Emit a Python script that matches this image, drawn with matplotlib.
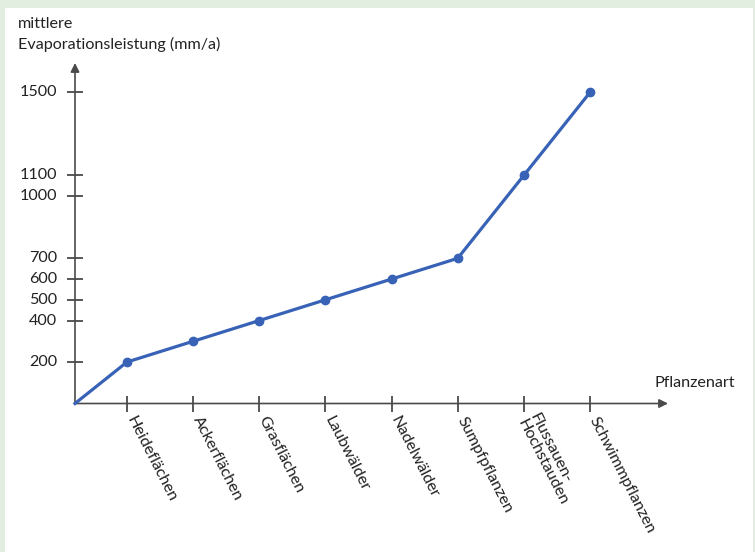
import matplotlib
matplotlib.use("Agg")
import matplotlib.pyplot as plt
from matplotlib.patches import Rectangle

plt.rcParams['font.family'] = ['Lato', 'DejaVu Sans']

categories = ["Heideflächen", "Ackerflächen", "Grasflächen", "Laubwälder",
              "Nadelwälder", "Sumpfpflanzen", "Flussauen-\nHochstauden", "Schwimmpflanzen"]
values = [200, 300, 400, 500, 600, 700, 1100, 1500]
y_ticks = [200, 400, 500, 600, 700, 1000, 1100, 1500]
y_label = "mittlere\nEvaporationsleistung (mm/a)"
x_label = "Pflanzenart"

W, H = 755, 552
DPI = 100
fig = plt.figure(figsize=(W / DPI, H / DPI), dpi=DPI)
fig.patch.set_facecolor('#e2efe0')
fig.patches.append(Rectangle((5 / W, 0), (753 - 5) / W, (H - 8) / H,
                             transform=fig.transFigure, facecolor='white',
                             edgecolor='none', zorder=-5))

ax = fig.add_axes([0, 0, 1, 1])
ax.set_zorder(2)
ax.axis('off')
ax.patch.set_alpha(0)

# pixel layout of the scales
px_first, px_step = 127, 66.14      # x pixel of first category, spacing
py_zero, py_per_unit = 403.5, 0.2074  # y pixel of value 0, pixels per unit
ax.set_xlim(1 - px_first / px_step, 1 + (W - px_first) / px_step)
ax.set_ylim(-(H - py_zero) / py_per_unit, py_zero / py_per_unit)

x_origin = 1 - (px_first - 75) / px_step
x_arrow_end = 1 + (668 - px_first) / px_step
y_arrow_end = (py_zero - 63) / py_per_unit
positions = list(range(1, len(categories) + 1))

axis_color = '#4a4a4a'
text_color = '#222222'
fs = 11.6

# axes with arrows
ax.annotate('', xy=(x_arrow_end, 0), xytext=(x_origin, 0),
            arrowprops=dict(arrowstyle='-|>', color=axis_color, lw=1.2,
                            mutation_scale=13, shrinkA=0, shrinkB=0))
ax.annotate('', xy=(x_origin, y_arrow_end), xytext=(x_origin, 0),
            arrowprops=dict(arrowstyle='-|>', color=axis_color, lw=1.2,
                            mutation_scale=13, shrinkA=0, shrinkB=0))

# ticks
ax.plot(positions, [0] * len(positions), linestyle='none', marker='|',
        markersize=12, markeredgewidth=1.3, color=axis_color)
ax.plot([x_origin] * len(y_ticks), y_ticks, linestyle='none', marker='_',
        markersize=11, markeredgewidth=1.3, color=axis_color)

# data line
ax.plot([x_origin] + positions, [0] + values, color='#3862b6', lw=2.3,
        marker='o', markersize=6, markevery=list(range(1, len(values) + 1)),
        solid_joinstyle='round', zorder=5)

# tick labels
for v in y_ticks:
    ax.text(x_origin - 18 / px_step, v, str(v), ha='right', va='center',
            fontsize=fs, color=text_color)
for p, c in zip(positions, categories):
    ax.text(p + 3 / px_step, -14 / py_per_unit, c, rotation=-63,
            rotation_mode='anchor', ha='left', va='center',
            fontsize=fs, color=text_color, linespacing=1.0)

# axis titles
ax.text(1 - (px_first - 18) / px_step, (py_zero - 17) / py_per_unit, y_label,
        ha='left', va='top', fontsize=fs, color=text_color, linespacing=1.5)
ax.text(1 + (655 - px_first) / px_step, (py_zero - 383) / py_per_unit, x_label,
        ha='left', va='center', fontsize=fs, color=text_color)

fig.savefig('out.png', dpi=DPI, facecolor=fig.get_facecolor())
